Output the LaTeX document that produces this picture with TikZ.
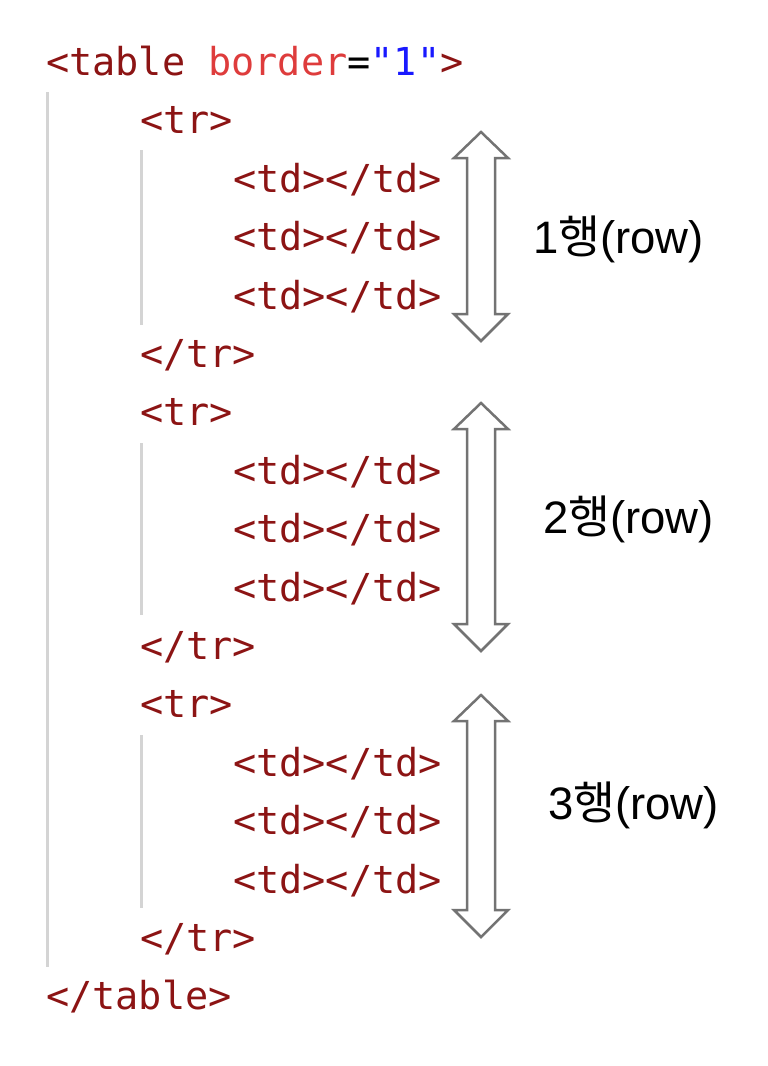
\documentclass[tikz,border=0pt]{standalone}
\usepackage{fontspec}
\setmainfont{Liberation Sans}
\newfontfamily\codefont{DejaVu Sans Mono}
\newfontfamily\krfont{Noto Sans CJK KR}
\definecolor{tagc}{RGB}{140,20,20}
\definecolor{attrc}{RGB}{222,60,60}
\definecolor{valc}{RGB}{25,25,255}
\definecolor{guidec}{RGB}{212,212,212}
\definecolor{arrowc}{RGB}{115,115,115}
\newcommand\RowArrow[3]{%
  \draw[rowarrow] (#1,#2) -- ({#1+27},{#2+26}) -- ({#1+14},{#2+26}) -- ({#1+14},{#3-27})
    -- ({#1+27},{#3-27}) -- (#1,#3) -- ({#1-27},{#3-27}) -- ({#1-14},{#3-27})
    -- ({#1-14},{#2+26}) -- ({#1-27},{#2+26}) -- cycle;}
\begin{document}
\begin{tikzpicture}[x=1pt,y=-1pt,
  code/.style={anchor=base west, inner sep=0pt, font=\codefont\fontsize{38.5}{40}\selectfont, text=tagc},
  rowlabel/.style={anchor=base west, inner sep=0pt, font=\fontsize{45.5}{52}\selectfont, text=black},
  guide/.style={draw=guidec, line width=3pt},
  rowarrow/.style={draw=arrowc, fill=white, line width=2.5pt, line join=miter}]
\path[use as bounding box] (0,0) rectangle (768,1066);
% guide lines
\draw[guide] (47,92) -- (47,967);
\draw[guide] (141,150) -- (141,325);
\draw[guide] (141,443) -- (141,615);
\draw[guide] (141,735) -- (141,908);
% code lines
\node[code] (l1) at (46,75.5) {<table \textcolor{attrc}{border}\textcolor{black}{=}\textcolor{valc}{"1"}>};
\node[code] (l2) at (140,133.9) {<tr>};
\node[code] (l3) at (233,192.3) {<td></td>};
\node[code] (l4) at (233,250.7) {<td></td>};
\node[code] (l5) at (233,309.1) {<td></td>};
\node[code] (l6) at (140,367.5) {</tr>};
\node[code] (l7) at (140,425.9) {<tr>};
\node[code] (l8) at (233,484.3) {<td></td>};
\node[code] (l9) at (233,542.7) {<td></td>};
\node[code] (l10) at (233,601.1) {<td></td>};
\node[code] (l11) at (140,659.5) {</tr>};
\node[code] (l12) at (140,717.9) {<tr>};
\node[code] (l13) at (233,776.3) {<td></td>};
\node[code] (l14) at (233,834.7) {<td></td>};
\node[code] (l15) at (233,893.1) {<td></td>};
\node[code] (l16) at (140,951.5) {</tr>};
\node[code] (l17) at (46,1009.9) {</table>};
% arrows
\RowArrow{481}{132}{341}
\RowArrow{481}{403}{651}
\RowArrow{481}{695}{937}
% labels
\node[rowlabel] (r1) at (533,253) {1{\krfont 행}(row)};
\node[rowlabel] (r2) at (543,533) {2{\krfont 행}(row)};
\node[rowlabel] (r3) at (548,819) {3{\krfont 행}(row)};
\end{tikzpicture}
\end{document}
